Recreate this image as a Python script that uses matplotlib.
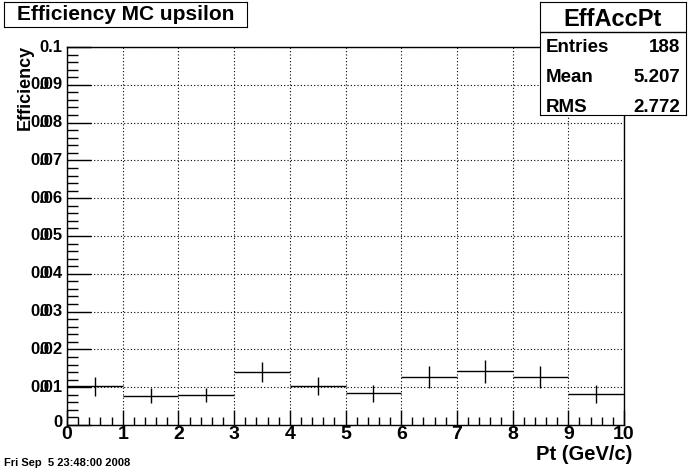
import numpy as np
import matplotlib
matplotlib.use('Agg')
from matplotlib import pyplot as plt
from matplotlib.ticker import MultipleLocator

# bin contents
binEdges = [0, 1, 2, 3, 4, 5, 6, 7, 8, 9, 10]
efficiency = [0.0102, 0.0077, 0.0080, 0.0140, 0.0103, 0.0084, 0.0127, 0.0142, 0.0127, 0.0082]
errors = [0.0025, 0.0020, 0.0019, 0.0027, 0.0024, 0.0022, 0.0028, 0.0030, 0.0030, 0.0023]
yTicks = [0.01, 0.02, 0.03, 0.04, 0.05, 0.06, 0.07, 0.08, 0.09]
xTicks = [0, 1, 2, 3, 4, 5, 6, 7, 8, 9, 10]
statNames = ['Entries', 'Mean', 'RMS']
statValues = ['188', '5.207', '2.772']

plt.rcParams['font.family'] = ['Liberation Sans', 'DejaVu Sans']
plt.rcParams['font.weight'] = 'bold'

W, H = 689, 470
fig = plt.figure(figsize=(W / 100, H / 100), dpi=100)
ax = fig.add_axes([67 / W, 1 - 425 / H, 557 / W, 378 / H])

centers = [(a + b) / 2 for a, b in zip(binEdges[:-1], binEdges[1:])]
halfWidths = [(b - a) / 2 for a, b in zip(binEdges[:-1], binEdges[1:])]
ax.errorbar(centers, efficiency, xerr=halfWidths, yerr=errors, fmt='none',
            ecolor='black', elinewidth=1.0, capsize=0, zorder=3)

ax.set_xlim(0, 10)
ax.set_ylim(0, 0.1)
ax.xaxis.set_major_locator(MultipleLocator(1))
ax.xaxis.set_minor_locator(MultipleLocator(0.2))
ax.yaxis.set_major_locator(MultipleLocator(0.01))
ax.yaxis.set_minor_locator(MultipleLocator(0.002))
ax.tick_params(which='both', direction='in', top=False, right=False, width=1, color='black')
ax.tick_params(axis='y', which='major', length=17)
ax.tick_params(axis='y', which='minor', length=8)
ax.tick_params(axis='x', which='major', length=11)
ax.tick_params(axis='x', which='minor', length=6)
ax.grid(True, which='major', linestyle=(0, (1, 2)), color='black', linewidth=0.8)
for s in ax.spines.values():
    s.set_linewidth(1.0)

ax.set_yticklabels([])
ax.set_xticklabels([])
xfs = 14
yfs = 12
for v in xTicks:
    ax.annotate(str(v), xy=(v, 0), xycoords=('data', 'axes fraction'),
                xytext=(0, -1), textcoords='offset points', ha='center', va='top',
                fontsize=xfs, fontweight='bold')
ax.annotate('0.1', xy=(0, 0.1), xycoords=('axes fraction', 'data'), xytext=(-3, 0),
            textcoords='offset points', ha='right', va='center', fontsize=yfs, fontweight='bold')
ax.annotate('0', xy=(0, 0.0), xycoords=('axes fraction', 'data'), xytext=(-3, 2),
            textcoords='offset points', ha='right', va='center', fontsize=yfs, fontweight='bold')
digitW = 0.556 * yfs
for v in yTicks:
    lab = '%.2f' % v
    ax.annotate(lab, xy=(0, v), xycoords=('axes fraction', 'data'), xytext=(-3, 0),
                textcoords='offset points', ha='right', va='center', fontsize=yfs, fontweight='bold')
    # ROOT overlapped labels
    ax.annotate('0', xy=(0, v), xycoords=('axes fraction', 'data'), xytext=(-3 - 1.5 * digitW, 0),
                textcoords='offset points', ha='right', va='center', fontsize=yfs, fontweight='bold')

fig.text(25 / W, 1 - 45 / H, 'Efficiency', rotation=90, ha='center', va='top',
         fontsize=13, fontweight='bold')
fig.text(632 / W, 1 - 455 / H, 'Pt (GeV/c)', ha='right', va='center',
         fontsize=14.5, fontweight='bold')
fig.text(4 / W, 1 - 463 / H, 'Fri Sep  5 23:48:00 2008', ha='left', va='center',
         fontsize=8, fontweight='bold')

# title box
tb = fig.add_axes([4 / W, 1 - 27 / H, 243 / W, 25 / H])
tb.set_xticks([]); tb.set_yticks([])
tb.text(0.5, 0.5, 'Efficiency MC upsilon', ha='center', va='center', fontsize=15, fontweight='bold')

# stats box
sb = fig.add_axes([540 / W, 1 - 115 / H, 146 / W, 113 / H])
sb.set_xticks([]); sb.set_yticks([])
sb.set_xlim(0, 146); sb.set_ylim(113, 0)
sb.axhline(30, color='black', linewidth=1.0)
sb.text(73, 17, 'EffAccPt', ha='center', va='center', fontsize=17, fontweight='bold')
for i, (n, val) in enumerate(zip(statNames, statValues)):
    y = 46 + i * 29.5
    sb.text(6, y, n, ha='left', va='center', fontsize=13.5, fontweight='bold')
    sb.text(140, y, val, ha='right', va='center', fontsize=13.5, fontweight='bold')

fig.savefig('out.png', dpi=100)
